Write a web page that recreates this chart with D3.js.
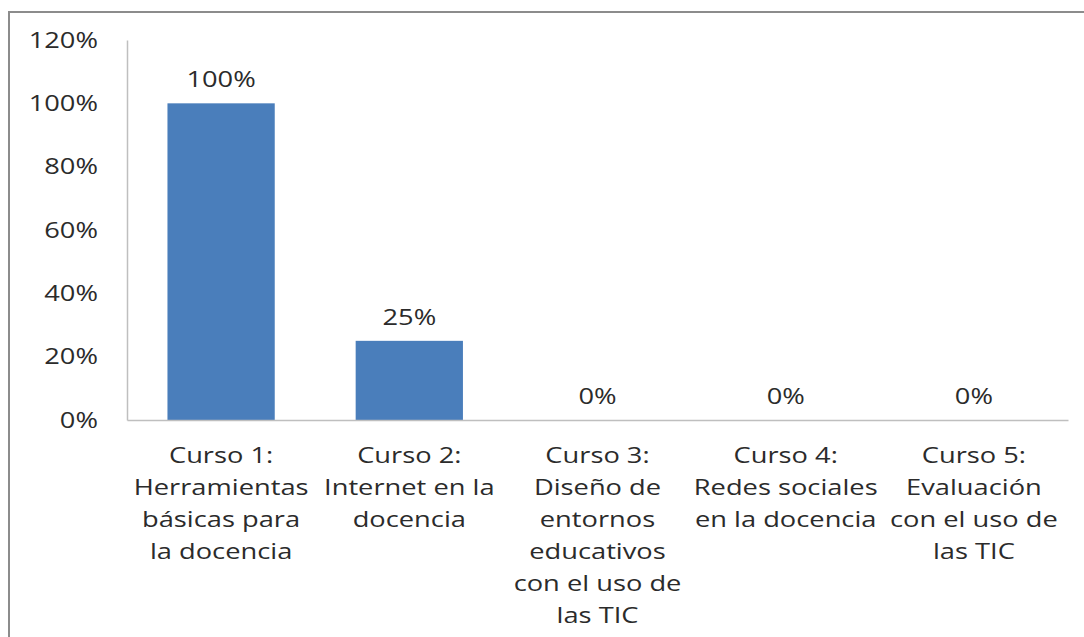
<!DOCTYPE html>
<html>
<head>
<meta charset="utf-8">
<script src="https://cdn.jsdelivr.net/npm/d3@7"></script>
<style>
  body { margin: 0; background: #fff; }
  text { font-family: "Open Sans", sans-serif; fill: #2b2b2b; }
</style>
</head>
<body>
<svg id="chart"></svg>
<script>
const width = 1084;
const height = 637;

// data
const categories = ["Curso 1", "Curso 2", "Curso 3", "Curso 4", "Curso 5"];
const labelLines = [
    ["Curso 1:", "Herramientas", "básicas para", "la docencia"],
    ["Curso 2:", "Internet en la", "docencia"],
    ["Curso 3:", "Diseño de", "entornos", "educativos", "con el uso de", "las TIC"],
    ["Curso 4:", "Redes sociales", "en la docencia"],
    ["Curso 5:", "Evaluación", "con el uso de", "las TIC"]
];
const values = [1.00, 0.25, 0, 0, 0];
const yTicks = [0, 0.2, 0.4, 0.6, 0.8, 1.0, 1.2];

const stretch = 1.24;   // text looks wider than the font
const fontSize = 22;

const svg = d3.select('#chart')
    .attr('width', width)
    .attr('height', height);

// outer border (runs off the right and bottom edge)
svg.append("rect")
    .attr("x", 9)
    .attr("y", 12)
    .attr("width", width + 20)
    .attr("height", height + 20)
    .style("fill", "#fff")
    .style("stroke", "#8c8c8c")
    .style("stroke-width", 2);

const x0 = 127, x1 = 1068, yTop = 40, yBase = 420;

const x = d3.scaleBand()
    .domain(categories)
    .range([x0, x1])
    .paddingInner(0.43)
    .paddingOuter(0.215);

const y = d3.scaleLinear()
    .domain([0, 1.2])
    .range([yBase, yTop]);

// y axis
const yAxis = svg.append("g")
    .attr("transform", `translate(${x0},0)`)
    .call(d3.axisLeft(y).tickValues(yTicks).tickFormat(d3.format(".0%")).tickSize(0).tickPadding(23.4));
yAxis.select(".domain").style("stroke", "#bfbfbf").style("stroke-width", 1.5);
yAxis.selectAll("text")
    .attr("font-size", fontSize + "px")
    .attr("font-family", null)
    .attr("transform", `scale(${stretch},1)`);

// bars
svg.selectAll(".bar")
    .data(values)
    .enter()
    .append("rect")
    .attr("class", "bar")
    .attr("x", (d, i) => x(categories[i]))
    .attr("y", d => y(d))
    .attr("width", x.bandwidth())
    .attr("height", d => y(0) - y(d))
    .style("fill", "#4a7ebb");

// x axis
const xAxis = svg.append("g")
    .attr("transform", `translate(0,${yBase})`)
    .call(d3.axisBottom(x).tickSize(0).tickFormat(""));
xAxis.select(".domain").style("stroke", "#bfbfbf").style("stroke-width", 1.5);

// value labels
svg.selectAll(".value")
    .data(values)
    .enter()
    .append("text")
    .attr("class", "value")
    .attr("transform", (d, i) => `translate(${x(categories[i]) + x.bandwidth() / 2},${y(d) - 16}) scale(${stretch},1)`)
    .attr("text-anchor", "middle")
    .attr("font-size", fontSize + "px")
    .text(d => d3.format(".0%")(d));

// category labels
const cat = svg.selectAll(".cat")
    .data(labelLines)
    .enter()
    .append("text")
    .attr("class", "cat")
    .attr("transform", (d, i) => `translate(${x(categories[i]) + x.bandwidth() / 2},${yBase + 43}) scale(${stretch},1)`)
    .attr("text-anchor", "middle")
    .attr("font-size", fontSize + "px");

cat.selectAll("tspan")
    .data(d => d)
    .enter()
    .append("tspan")
    .attr("x", 0)
    .attr("y", (d, i) => i * 32)
    .text(d => d);
</script>
</body>
</html>
